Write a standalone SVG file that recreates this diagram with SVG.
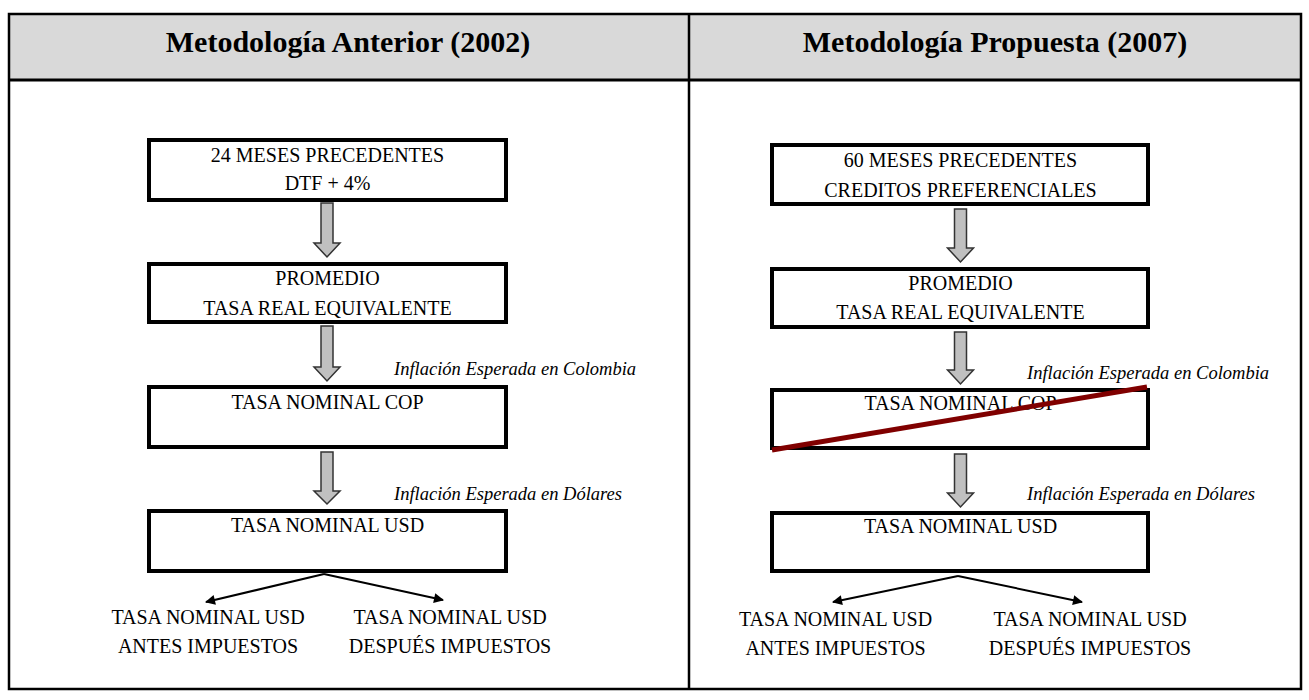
<svg xmlns="http://www.w3.org/2000/svg" width="1309" height="700" viewBox="0 0 1309 700">
<style>
.t{font-family:"Liberation Serif","Times New Roman",serif;font-size:20px;fill:#000;text-anchor:middle}
.i{font-family:"Liberation Serif","Times New Roman",serif;font-size:18.5px;font-style:italic;fill:#000}
.h{font-family:"Liberation Serif","Times New Roman",serif;font-size:30px;font-weight:bold;fill:#000;text-anchor:middle}
.box{fill:#fff;stroke:#000;stroke-width:4}
.ga{fill:#c0c0c0;stroke:#333;stroke-width:1.5;stroke-linejoin:miter}
.ln{stroke:#000;stroke-width:2;fill:none}
</style>
<defs>
<marker id="ah" viewBox="0 0 10 10" refX="9" refY="5" markerWidth="6" markerHeight="5" orient="auto" markerUnits="strokeWidth">
<path d="M0,0 L10,5 L0,10 z" fill="#000"/>
</marker>
</defs>
<rect x="0" y="0" width="1309" height="700" fill="#fff"/>
<g id="table">
<rect x="9" y="14" width="1292" height="66" fill="#d9d9d9"/>
<rect x="9" y="14" width="1292" height="675" fill="none" stroke="#000" stroke-width="2.5"/>
<line x1="9" y1="80" x2="1301" y2="80" stroke="#000" stroke-width="3"/>
<line x1="689" y1="14" x2="689" y2="689" stroke="#000" stroke-width="2.5"/>
<text class="h" x="348" y="52">Metodología Anterior (2002)</text>
<text class="h" x="995" y="52">Metodología Propuesta (2007)</text>
</g>
<g id="L1"><rect class="box" x="149" y="140" width="357" height="60"/><text class="t" x="327.5" y="162">24 MESES PRECEDENTES</text><text class="t" x="327.5" y="190">DTF + 4%</text></g>
<g id="L2"><rect class="box" x="149" y="264" width="357" height="58"/><text class="t" x="327.5" y="285">PROMEDIO</text><text class="t" x="327.5" y="315">TASA REAL EQUIVALENTE</text></g>
<g id="L3"><rect class="box" x="149" y="387" width="357" height="60"/><text class="t" x="327.5" y="409">TASA NOMINAL COP</text></g>
<g id="L4"><rect class="box" x="149" y="511" width="357" height="60"/><text class="t" x="327.5" y="532">TASA NOMINAL USD</text></g>
<g id="L5"><text class="t" x="208" y="624">TASA NOMINAL USD</text><text class="t" x="208" y="653">ANTES IMPUESTOS</text></g>
<g id="L6"><text class="t" x="450" y="624">TASA NOMINAL USD</text><text class="t" x="450" y="653">DESPUÉS IMPUESTOS</text></g>
<g id="R1"><rect class="box" x="772" y="145" width="376" height="59"/><text class="t" x="960.5" y="167">60 MESES PRECEDENTES</text><text class="t" x="960.5" y="197">CREDITOS PREFERENCIALES</text></g>
<g id="R2"><rect class="box" x="772" y="269" width="376" height="58"/><text class="t" x="960.5" y="290">PROMEDIO</text><text class="t" x="960.5" y="319">TASA REAL EQUIVALENTE</text></g>
<g id="R3"><rect class="box" x="772" y="390" width="376" height="58"/><text class="t" x="960.5" y="410">TASA NOMINAL COP</text><line x1="772" y1="450" x2="1147" y2="387" stroke="#800000" stroke-width="5"/></g>
<g id="R4"><rect class="box" x="772" y="513" width="376" height="58"/><text class="t" x="960.5" y="533">TASA NOMINAL USD</text></g>
<g id="R5"><text class="t" x="835.5" y="626">TASA NOMINAL USD</text><text class="t" x="835.5" y="655">ANTES IMPUESTOS</text></g>
<g id="R6"><text class="t" x="1090" y="626">TASA NOMINAL USD</text><text class="t" x="1090" y="655">DESPUÉS IMPUESTOS</text></g>
<g id="labels">
<text class="i" x="394" y="375">Inflación Esperada en Colombia</text>
<text class="i" x="394" y="500">Inflación Esperada en Dólares</text>
<text class="i" x="1027" y="379">Inflación Esperada en Colombia</text>
<text class="i" x="1027" y="500">Inflación Esperada en Dólares</text>
</g>
<g id="connectors">
<path class="ga" d="M321,203 H333 V243 H340 L327,257 L314,243 H321 Z"/>
<path class="ga" d="M321,326 H333 V367 H340 L327,381 L314,367 H321 Z"/>
<path class="ga" d="M321,452 H333 V491 H340 L327,504 L314,491 H321 Z"/>
<path class="ga" d="M954.5,209 H966.5 V248 H973.5 L960.5,262 L947.5,248 H954.5 Z"/>
<path class="ga" d="M954.5,332 H966.5 V370 H973.5 L960.5,384 L947.5,370 H954.5 Z"/>
<path class="ga" d="M954.5,454 H966.5 V493 H973.5 L960.5,507 L947.5,493 H954.5 Z"/>
<line class="ln" x1="324" y1="574" x2="206" y2="602" marker-end="url(#ah)"/>
<line class="ln" x1="324" y1="574" x2="443" y2="600" marker-end="url(#ah)"/>
<line class="ln" x1="958" y1="576" x2="833" y2="602" marker-end="url(#ah)"/>
<line class="ln" x1="958" y1="576" x2="1082" y2="602" marker-end="url(#ah)"/>
</g>
</svg>
